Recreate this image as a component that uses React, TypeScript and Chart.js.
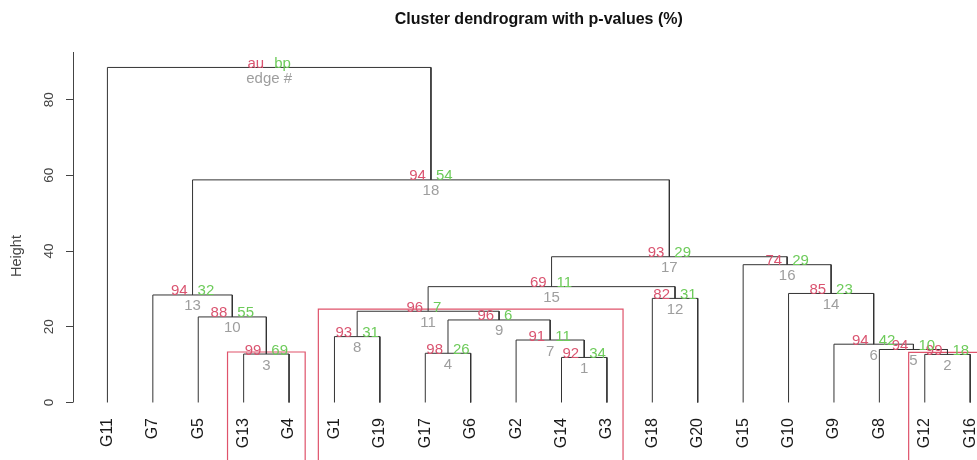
import React, { useEffect, useRef } from "react";
import { Chart, registerables } from "chart.js";

Chart.register(...registerables);

// ---- data -------------------------------------------------------------
const leafLabels = [
  "G11", "G7", "G5", "G13", "G4", "G1", "G19", "G17", "G6", "G2",
  "G14", "G3", "G18", "G20", "G15", "G10", "G9", "G8", "G12", "G16",
];

// hclust-style merges: strings are leaves, numbers refer to earlier merges (edge #)
const mergeLeft: (string | number)[] = [
  "G14", "G12", "G13", "G17", "G8", "G9", "G2", "G1", 4, "G5",
  8, "G18", "G7", "G10", 11, "G15", 15, 13, "G11",
];
const mergeRight: (string | number)[] = [
  "G3", "G16", "G4", "G6", 2, 5, 1, "G19", 7, 3,
  9, "G20", 10, 6, 12, 14, 16, 17, 18,
];
const mergeHeights = [
  11.9, 12.7, 12.8, 13.0, 14.0, 15.4, 16.5, 17.4, 21.8, 22.6,
  24.1, 27.5, 28.4, 28.8, 30.6, 36.4, 38.5, 58.8, 88.5,
];
const auValues = [
  "92", "99", "99", "98", "94", "94", "91", "93", "96", "88",
  "96", "82", "94", "85", "69", "74", "93", "94", "au",
];
const bpValues = [
  "34", "18", "69", "26", "10", "42", "11", "31", "6", "55",
  "7", "31", "32", "23", "11", "29", "29", "54", "bp",
];
const edgeLabels = [
  "1", "2", "3", "4", "5", "6", "7", "8", "9", "10",
  "11", "12", "13", "14", "15", "16", "17", "18", "edge #",
];
const highlightedEdges = [3, 11, 2];
const yTickValues = [0, 20, 40, 60, 80];

const titleText = "Cluster dendrogram with p-values (%)";
const yTitle = "Height";

// ---- styling / layout constants ------------------------------------------
const X_MIN = 0.242;
const X_MAX = 20.15;
const Y_MIN = -15.19;
const Y_MAX = 92.58;
const RECT_MX = 0.355;
const RECT_MY = 0.54;
const RECT_BOTTOM = -16.5;
const FONT = "'Liberation Sans', Arial, Helvetica, sans-serif";
const COL_LINE = "#333333";
const COL_AU = "#DA5470";
const COL_BP = "#6DCB5A";
const COL_EDGE = "#9E9E9E";
const COL_RECT = "#DF536B";

// ---- compute node positions from the tree ---------------------------------
function computeNodes() {
  const nodeX: number[] = [];
  const nodeH: number[] = [];
  const pos = (ref: string | number) =>
    typeof ref === "number"
      ? { x: nodeX[ref - 1], h: nodeH[ref - 1] }
      : { x: leafLabels.indexOf(ref) + 1, h: 0 };
  const segs: { x: number; y: number }[][] = [];
  for (let i = 0; i < mergeLeft.length; i++) {
    const l = pos(mergeLeft[i]);
    const r = pos(mergeRight[i]);
    const h = mergeHeights[i];
    nodeX.push((l.x + r.x) / 2);
    nodeH.push(h);
    segs.push([
      { x: l.x, y: l.h },
      { x: l.x, y: h },
      { x: r.x, y: h },
      { x: r.x, y: r.h },
    ]);
  }
  const members = (ref: string | number): number[] =>
    typeof ref === "number"
      ? [...members(mergeLeft[ref - 1]), ...members(mergeRight[ref - 1])]
      : [leafLabels.indexOf(ref) + 1];
  const rects = highlightedEdges.map((e) => {
    const m = members(e);
    const xl = Math.min(...m) - RECT_MX;
    const xr = Math.max(...m) + RECT_MX;
    const top = mergeHeights[e - 1] + RECT_MY;
    return [
      { x: xl, y: RECT_BOTTOM },
      { x: xl, y: top },
      { x: xr, y: top },
      { x: xr, y: RECT_BOTTOM },
    ];
  });
  return { nodeX, nodeH, segs, rects };
}

const dendroTextPlugin = {
  id: "dendroText",
  afterDatasetsDraw(chart: any) {
    const { ctx, chartArea } = chart;
    const xs = chart.scales.x;
    const ys = chart.scales.y;
    const { nodeX, nodeH } = computeNodes();
    ctx.save();

    // y axis line from 0 up to the top of the plot region
    ctx.strokeStyle = "#444";
    ctx.lineWidth = 1;
    ctx.beginPath();
    const ax = Math.round(chartArea.left) + 0.5;
    ctx.moveTo(ax, ys.getPixelForValue(0));
    ctx.lineTo(ax, chartArea.top);
    ctx.stroke();

    // title
    ctx.fillStyle = "#111";
    ctx.font = `bold 16px ${FONT}`;
    ctx.textAlign = "center";
    ctx.textBaseline = "alphabetic";
    ctx.fillText(titleText, xs.getPixelForValue((X_MIN + 20.758) / 2), chartArea.top - 28);

    // leaf labels
    ctx.font = `16px ${FONT}`;
    ctx.fillStyle = "#1a1a1a";
    const y0 = ys.getPixelForValue(0);
    leafLabels.forEach((lab, i) => {
      const px = xs.getPixelForValue(i + 1);
      ctx.save();
      ctx.translate(px, y0 + 15.5);
      ctx.rotate(-Math.PI / 2);
      ctx.textAlign = "right";
      ctx.textBaseline = "middle";
      ctx.fillText(lab, 0, 0);
      ctx.restore();
    });

    // au / bp / edge numbers
    ctx.font = `15px ${FONT}`;
    ctx.textBaseline = "alphabetic";
    for (let i = 0; i < nodeX.length; i++) {
      const px = xs.getPixelForValue(nodeX[i]);
      const py = ys.getPixelForValue(nodeH[i]);
      ctx.fillStyle = COL_AU;
      ctx.textAlign = "right";
      ctx.fillText(auValues[i], px - 5, py + 0.5);
      ctx.fillStyle = COL_BP;
      ctx.textAlign = "left";
      ctx.fillText(bpValues[i], px + 5, py + 0.5);
      ctx.fillStyle = COL_EDGE;
      ctx.textAlign = "center";
      ctx.fillText(edgeLabels[i], px, py + 15.5);
    }
    ctx.restore();
  },
};

export default function App() {
  const canvasRef = useRef<HTMLCanvasElement | null>(null);

  useEffect(() => {
    if (!canvasRef.current) return;
    const { segs, rects } = computeNodes();
    const datasets: any[] = [
      ...segs.map((s, i) => ({
        label: `edge ${i + 1}`,
        data: s,
        borderColor: COL_LINE,
        borderWidth: 1,
        pointRadius: 0,
        fill: false,
        tension: 0,
      })),
      ...rects.map((r, i) => ({
        label: `rect ${i + 1}`,
        data: r,
        borderColor: COL_RECT,
        borderWidth: 1.2,
        pointRadius: 0,
        fill: false,
        tension: 0,
        clip: false,
      })),
    ];
    const chart = new Chart(canvasRef.current, {
      type: "line",
      data: { datasets },
      options: {
        animation: false,
        responsive: false,
        devicePixelRatio: 1,
        layout: { autoPadding: false, padding: { top: 52, left: 0, right: 0, bottom: 0 } },
        plugins: {
          legend: { display: false },
          tooltip: { enabled: false },
          title: { display: false },
        },
        events: [],
        scales: {
          x: {
            type: "linear",
            min: X_MIN,
            max: X_MAX,
            display: false,
          },
          y: {
            type: "linear",
            min: Y_MIN,
            max: Y_MAX,
            afterBuildTicks: (scale: any) => {
              scale.ticks = yTickValues.map((v) => ({ value: v }));
            },
            afterFit: (scale: any) => {
              scale.width = 73;
              scale.paddingTop = 0;
              scale.paddingBottom = 0;
            },
            border: { display: false },
            grid: {
              display: true,
              drawOnChartArea: false,
              drawTicks: true,
              tickLength: 7,
              color: "#444",
            },
            ticks: {
              minRotation: 90,
              maxRotation: 90,
              crossAlign: "center",
              padding: 9,
              color: "#444",
              font: { size: 13.5, family: FONT },
            },
            title: {
              display: true,
              text: yTitle,
              color: "#444",
              font: { size: 14.5, family: FONT },
              padding: { top: 8.3, bottom: 0 },
            },
          },
        },
      },
      plugins: [dendroTextPlugin],
    } as any);
    return () => chart.destroy();
  }, []);

  return (
    <div style={{ position: "absolute", left: 0, top: 0, width: 977, height: 460, background: "#fff" }}>
      <canvas ref={canvasRef} width={977} height={460} />
    </div>
  );
}
